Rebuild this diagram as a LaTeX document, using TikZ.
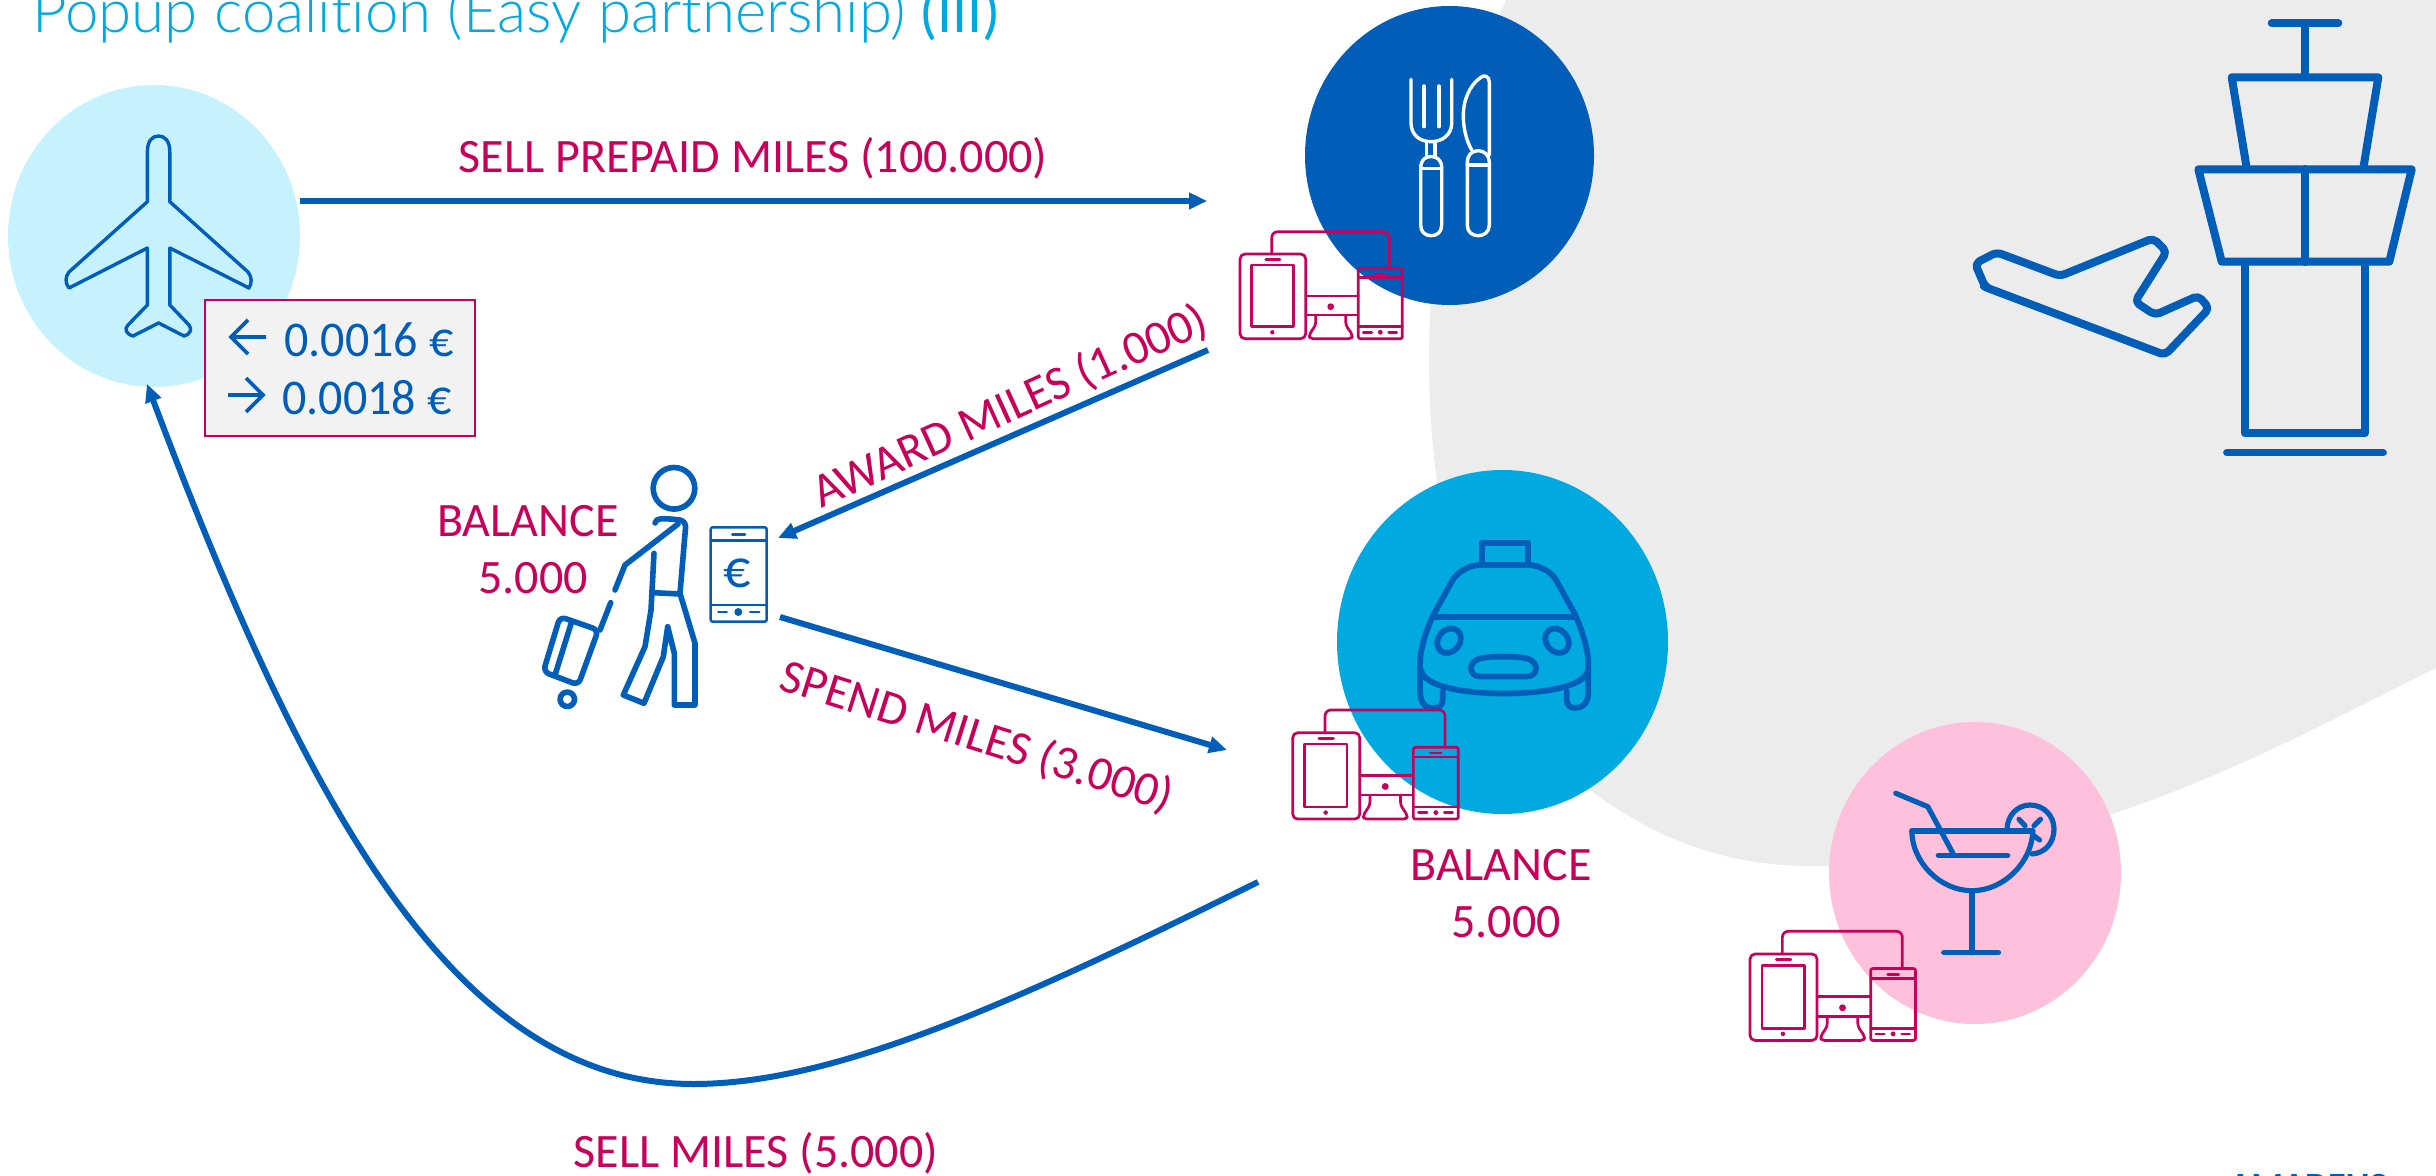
\documentclass[tikz,border=0pt]{standalone}
\usepackage{fontspec}
\setmainfont{Carlito}
\newfontfamily\lightfont[UprightFont=* Light,Ligatures=NoCommon]{Lato}
\usetikzlibrary{arrows.meta,shapes.geometric}
\definecolor{ablue}{HTML}{005EB8}
\definecolor{acyan}{HTML}{00A9E0}
\definecolor{alight}{HTML}{C6F1FF}
\definecolor{apink}{HTML}{FFC0DC}
\definecolor{agrey}{HTML}{ECECEC}
\definecolor{amag}{HTML}{C8005A}
\tikzset{
  x=0.5pt,y=-0.5pt,
  disc/.style={ellipse,inner sep=0pt,draw=none},
  flow/.style={draw=ablue,line width=3pt,-{Triangle[length=9pt,width=8pt]}},
  lab/.style={text=amag,font=\fontsize{24}{28}\selectfont,inner sep=0pt},
  rate/.style={anchor=west,inner sep=0pt,xscale=.96,text=ablue,font=\fontsize{25}{29}\selectfont},
  rarrow/.style={draw=ablue,line width=1.9pt,line join=miter},
  icon/.style={draw=ablue,line cap=round,line join=round},
  wire/.style={draw=amag,line width=1.35pt,line cap=round,line join=round},
  devices/.pic={
    \draw[wire,rounded corners=2.5pt] (0,0) rectangle (65.7,84.7);
    \draw[wire] (11.7,11) rectangle (53.3,72.7);
    \draw[wire] (25.7,5.7) -- (40,5.7);
    \fill[amag] (32.3,78.3) circle (1.1pt);
    \draw[wire,rounded corners=3pt] (31.7,0) -- (31.7,-22.3) -- (149.3,-22.3) -- (149.3,14.3);
    \draw[wire,rounded corners=1pt] (118.3,14.3) rectangle (162.3,84.7);
    \draw[wire] (118.3,23.7) -- (162.3,23.7) (118.3,72.7) -- (162.3,72.7);
    \draw[wire] (135,20) -- (145.7,20);
    \fill[amag] (140.3,78.3) circle (1.2pt);
    \draw[wire] (123.3,78.3) -- (131.7,78.3) (148.7,78.3) -- (156.7,78.3);
    \draw[wire] (65.7,42) -- (118.3,42) (65.7,61) -- (118.3,61);
    \fill[amag] (90.7,52.7) circle (1.7pt);
    \draw[wire,rounded corners=1.5pt] (75.7,61) -- (75.7,71) -- (69,81) -- (70,84.7) -- (111.7,84.7) -- (112.5,81) -- (105.7,71) -- (105.7,61);
  }
}
\begin{document}
\begin{tikzpicture}
\useasboundingbox (0,0) rectangle (2436,1176);
\clip (0,0) rectangle (2436,1176);

% grey backdrop
\fill[agrey] (1507,-2) .. controls (1455,110) and (1429,230) .. (1429,360)
  .. controls (1429,560) and (1490,720) .. (1590,790)
  .. controls (1650,835) and (1720,866) .. (1811,866)
  .. controls (1920,866) and (2020,845) .. (2112,814)
  .. controls (2230,775) and (2340,716) .. (2440,666)
  -- (2440,-2) -- cycle;

% discs
\node[disc,fill=alight,minimum width=146pt,minimum height=151pt] (airline) at (154,236) {};
\node[disc,fill=ablue,minimum width=144.5pt,minimum height=149.5pt] (restaurant) at (1449.5,155.5) {};
\node[disc,fill=acyan,minimum width=165.5pt,minimum height=172pt] (taxi) at (1502.5,642) {};
\node[disc,fill=apink,minimum width=146pt,minimum height=151pt] (bar) at (1975,873) {};

% title
\node[anchor=base west,inner sep=0pt,text=acyan,font=\fontsize{30}{36}\selectfont] (title) at (32,33) {{\lightfont Popup coalition (Easy partnership)} (III)};

% airline plane
\draw[icon,line width=1.7pt] (147.4,152) .. controls (147.4,141) and (152,136) .. (158.6,136)
  .. controls (165,136) and (169.8,141) .. (169.8,152) -- (169.8,201.7) -- (248,272)
  .. controls (252,277) and (252,283) .. (249,288) -- (169.8,248) -- (169.8,305) -- (189,325)
  .. controls (192,329) and (191,334) .. (184,336) -- (158.6,323) -- (133,336)
  .. controls (126,334) and (124,329) .. (128,325) -- (147.4,305) -- (147.4,248) -- (69,288)
  .. controls (65,283) and (65,277) .. (69,272) -- (147.4,201.7) -- cycle;

% rate box
\node[draw=amag,line width=0.8pt,fill=agrey!70!white,minimum width=135pt,minimum height=68pt,inner sep=0pt] (rates) at (340,368) {};
\node[rate] (rateA) at (284,340) {0.0016 €};
\node[rate] (rateB) at (282,398) {0.0018 €};
\draw[rarrow] (266,337) -- (230,337) (248,320) -- (231,337) -- (248,354);
\draw[rarrow] (228,395) -- (264,395) (246,378) -- (263,395) -- (246,412);

% cutlery
\begin{scope}[draw=white,line width=1.7pt,line cap=round,line join=round]
\draw (1411,79.3) -- (1411,123) .. controls (1411,135) and (1420,141.7) .. (1431,141.7) .. controls (1442,141.7) and (1451.7,135) .. (1451.7,123) -- (1451.7,79.3);
\draw (1424,86) -- (1424,126.7) (1439,86) -- (1439,126.7);
\draw (1426.7,141.7) -- (1426.7,157) (1435,141.7) -- (1435,157);
\draw (1420.7,168) .. controls (1420.7,160) and (1425,156.5) .. (1431.2,156.5) .. controls (1437,156.5) and (1441.7,160) .. (1441.7,168)
  -- (1441.7,225) .. controls (1441.7,232) and (1437,235.7) .. (1431.2,235.7) .. controls (1425,235.7) and (1420.7,232) .. (1420.7,225) -- cycle;
\draw (1420.7,168.3) -- (1441.7,168.3);
\draw (1467.3,162) .. controls (1467.3,155) and (1472,150.7) .. (1478.3,150.7) .. controls (1484,150.7) and (1489.3,155) .. (1489.3,162)
  -- (1489.3,225) .. controls (1489.3,232) and (1484,235.7) .. (1478.3,235.7) .. controls (1472,235.7) and (1467.3,232) .. (1467.3,225) -- cycle;
\draw (1467.3,165) -- (1489.3,165);
\draw (1489.3,155) -- (1489.3,82) .. controls (1489.3,76) and (1484,74) .. (1480,78) .. controls (1470,85) and (1463,100) .. (1463.3,116.7) .. controls (1463.5,130) and (1467,142) .. (1471.7,150);
\end{scope}

% tower
\begin{scope}[icon,line width=4pt]
\draw (2271.7,23.3) -- (2338.3,23.3) (2305,23.3) -- (2305,77);
\draw (2246.7,168.3) -- (2231.7,77.3) -- (2378.3,77.3) -- (2363.3,168.3);
\draw (2198.3,169.3) -- (2411.7,169.3) -- (2389.3,261.7) -- (2221.7,261.7) -- cycle;
\draw (2305,169) -- (2305,262);
\draw (2245,262) -- (2245,433.3) -- (2365,433.3) -- (2365,262);
\draw[line width=3.6pt] (2226.7,452.7) -- (2383.3,452.7);
\draw[rounded corners=2.5pt] (1975,263.5) -- (1996.7,252.3) -- (2060,276) -- (2153.3,238.3) -- (2166.7,251.7) -- (2135,301.7) -- (2155,315) -- (2198.3,295.7) -- (2209.3,308.3) -- (2165,355) -- (1988.3,288.3) -- (1985,286.7) -- cycle;
\end{scope}

% traveller
\begin{scope}[icon,line width=2.8pt]
\draw (674,488.3) circle (10.4pt);
\draw (655,523) .. controls (656,518) and (662,518) .. (680,520) .. controls (684,521) and (686,524) .. (685.5,528) -- (680,593.3);
\draw (678,524) -- (625,565) -- (615,590);
\draw (610.7,602.7) -- (600,630);
\draw (654,553.3) -- (651,610) -- (645,646.7) -- (623.3,695) -- (644,703.3) -- (663.3,656.7) -- (667.7,626.7) -- (674.3,653.3) -- (674.3,705) -- (695,705) -- (695,643.3) -- (680,593.3);
\draw (653.3,592.7) -- (680,594);
\draw[rounded corners=3pt] (560,616.7) -- (598.3,630) -- (578.3,685) -- (543.3,671.7) -- cycle;
\draw (571.7,621.7) -- (555,675);
\draw (567.3,699.3) circle (3.6pt);
\end{scope}
% e-wallet phone
\begin{scope}[icon,line width=1.25pt]
\draw[rounded corners=1pt] (710.7,527.3) rectangle (766.7,621.7);
\draw (710.7,540.7) -- (766.7,540.7) (710.7,605) -- (766.7,605);
\draw (732.3,534.7) -- (745,534.7);
\draw (718.3,612) -- (726.7,612) (750,612) -- (759.3,612);
\end{scope}
\fill[ablue] (738.3,612) circle (2pt);
\node[inner sep=0pt,text=ablue,font=\fontsize{27}{30}\selectfont] (euro) at (737,573) {€};

% taxi
\begin{scope}[icon,line width=2.9pt]
\draw (1481.7,563.3) -- (1481.7,542.7) -- (1527.7,542.7) -- (1527.7,563.3);
\draw (1420,690) -- (1420,663.3) .. controls (1420,650) and (1426,630) .. (1433.3,615) -- (1451.7,581.7) .. controls (1457,572) and (1468,566) .. (1478.3,565) -- (1530,565) .. controls (1541,566) and (1552,572) .. (1557,581.7) -- (1575.3,615) .. controls (1582,630) and (1588.3,650) .. (1588.3,663.3) -- (1588.3,692)
  .. controls (1588.3,704) and (1582,708) .. (1575,708) -- (1575,708) .. controls (1570,708) and (1566.7,705) .. (1566.7,700) -- (1566.7,691.7);
\draw (1420,690) .. controls (1420,704) and (1426,708.3) .. (1433,708.3) .. controls (1439,708.3) and (1442.7,705) .. (1442.7,700) -- (1442.7,691.7);
\draw (1435,616.7) -- (1573.3,616.7);
\draw (1421,670) .. controls (1424,688) and (1470,693.5) .. (1504,693.5) .. controls (1538,693.5) and (1585,688) .. (1588,670);
\draw[rotate around={-40:(1449,640.7)}] (1449,640.7) ellipse (5.4pt and 6.6pt);
\draw[rotate around={40:(1557,640.7)}] (1557,640.7) ellipse (5.4pt and 6.6pt);
\draw (1480,658.5) .. controls (1490,656) and (1517,656) .. (1527,658.5) .. controls (1540,662) and (1538,676.5) .. (1527,676.5) -- (1480,676.5) .. controls (1469,676.5) and (1467,662) .. (1480,658.5) -- cycle;
\end{scope}

% cocktail
\begin{scope}[icon,line width=2.6pt]
\draw (1895.8,793.3) -- (1927.8,806.7) -- (1952.9,853.3);
\draw (1911.8,831) -- (2032.8,831);
\draw (1911.8,831) .. controls (1912,862) and (1940,890.7) .. (1972,890.7) .. controls (2004,890.7) and (2032,862) .. (2032.8,831);
\draw (1938.3,855.3) -- (2007.7,855.3);
\draw (1972,890.7) -- (1972,952.7);
\draw (1943.7,952.7) -- (1998.5,952.7);
\draw (2007,830) .. controls (2007,815) and (2018,805) .. (2030,805) .. controls (2044,805) and (2054,816) .. (2054,829) .. controls (2054,843) and (2045,853) .. (2032,854);
\draw (2019,819.3) -- (2025,825.7) (2040.5,819.3) -- (2034,825.7) (2032.8,835) -- (2039.6,840);
\end{scope}

% devices
\pic (devA) at (1240,254) {devices};
\pic[scale=1.02] (devB) at (1292.7,732.7) {devices};
\pic[scale=1.02] (devC) at (1750,954) {devices};

% connector ends
\coordinate (sellStart) at (300,201);
\coordinate (sellEnd) at (1207,201);
\coordinate (awardStart) at (1208,350);
\coordinate (awardEnd) at (778,538);
\coordinate (spendStart) at (780,617);
\coordinate (spendEnd) at (1227,750);
\coordinate (backStart) at (1258,882);
\coordinate (backEnd) at (147,384);
\draw[flow] (sellStart) -- (sellEnd);
\draw[flow] (awardStart) -- (awardEnd);
\draw[flow] (spendStart) -- (spendEnd);
\draw[flow] (backStart) .. controls (1000,1010) and (830,1084) .. (693,1084) .. controls (450,1084) and (300,790) .. (backEnd);

% labels
\node[lab] (l1) at (753,158) {SELL PREPAID MILES (100.000)};
\node[lab,rotate=24.5] (l2) at (1010,407) {AWARD MILES (1.000)};
\node[lab,rotate=-17.5] (l3) at (977,737) {SPEND MILES (3.000)};
\node[lab] (l4) at (756,1153) {SELL MILES (5.000)};
\node[lab] (b1) at (528,521) {BALANCE};
\node[lab] (b2) at (533,578) {5.000};
\node[lab] (b3) at (1501,865) {BALANCE};
\node[lab] (b4) at (1506,922) {5.000};
\node[anchor=base,inner sep=0pt,xscale=1.07,text=ablue,font=\bfseries\fontsize{17}{20}\selectfont] (logo) at (2308,1196) {AMADEUS};
\end{tikzpicture}
\end{document}
